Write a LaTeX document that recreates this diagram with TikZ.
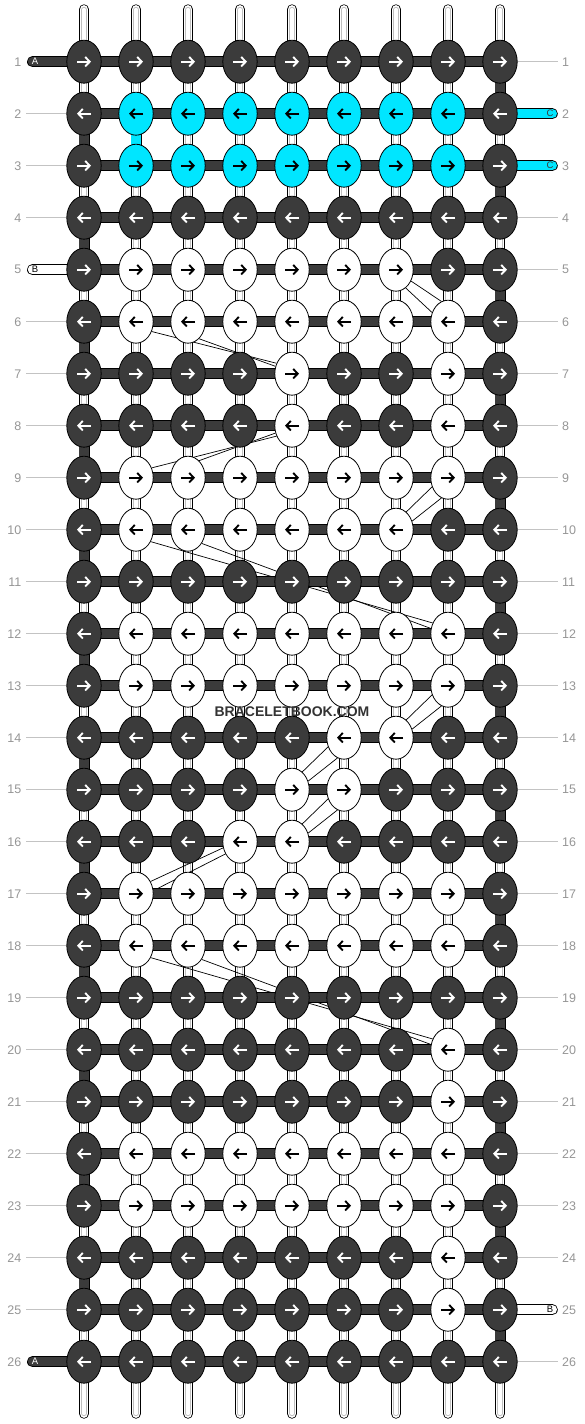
\documentclass[tikz,border=0pt]{standalone}
\usepackage{fontspec}
\setmainfont{Liberation Sans}
\usepackage{tikz}
\usetikzlibrary{shapes.geometric,arrows.meta}
\definecolor{threaddark}{RGB}{59,59,59}
\definecolor{threadcyan}{RGB}{0,230,255}
\definecolor{labelgray}{RGB}{150,150,150}
\definecolor{guidegray}{RGB}{195,195,195}
\definecolor{stripegray}{RGB}{190,190,190}
\pgfdeclarelayer{warps}
\pgfdeclarelayer{skips}
\pgfdeclarelayer{wefts}
\pgfsetlayers{warps,skips,wefts,main}
% knot colours row by row: 0 dark, 1 white, 2 cyan
\def\knotmap{{%
0,0,0,0,0,0,0,0,0,%
0,2,2,2,2,2,2,2,0,%
0,2,2,2,2,2,2,2,0,%
0,0,0,0,0,0,0,0,0,%
0,1,1,1,1,1,1,0,0,%
0,1,1,1,1,1,1,1,0,%
0,0,0,0,1,0,0,1,0,%
0,0,0,0,1,0,0,1,0,%
0,1,1,1,1,1,1,1,0,%
0,1,1,1,1,1,1,0,0,%
0,0,0,0,0,0,0,0,0,%
0,1,1,1,1,1,1,1,0,%
0,1,1,1,1,1,1,1,0,%
0,0,0,0,0,1,1,0,0,%
0,0,0,0,1,1,0,0,0,%
0,0,0,1,1,0,0,0,0,%
0,1,1,1,1,1,1,1,0,%
0,1,1,1,1,1,1,1,0,%
0,0,0,0,0,0,0,0,0,%
0,0,0,0,0,0,0,1,0,%
0,0,0,0,0,0,0,1,0,%
0,1,1,1,1,1,1,1,0,%
0,1,1,1,1,1,1,1,0,%
0,0,0,0,0,0,0,1,0,%
0,0,0,0,0,0,0,1,0,%
0,0,0,0,0,0,0,0,0}}

\begin{document}
\begin{tikzpicture}[x=1pt,y=-1pt,
    knot/.style={ellipse,draw=black,line width=0.8pt,minimum width=34.4pt,minimum height=43pt,inner sep=0pt},
    knot0/.style={knot,fill=threaddark},
    knot1/.style={knot,fill=white},
    knot2/.style={knot,fill=threadcyan},
    knotarrow/.style={-{Straight Barb[length=4.5pt,width=9.5pt]},line width=1.9pt},
    link0/.style={draw=black,line width=10.4pt,postaction={draw=white,line width=8.8pt},postaction={draw=stripegray,line width=5.2pt},postaction={draw=white,line width=3.2pt}},
    link1/.style={draw=black,line width=11pt,postaction={draw=threaddark,line width=9.4pt}},
    link2/.style={draw=black,line width=11pt,postaction={draw=threadcyan,line width=9.4pt}},
    endwhite/.style={draw=black,line width=11pt,postaction={draw=white,line width=9.4pt},line cap=round},
    endtag/.style={font=\fontsize{9.5}{11}\selectfont,inner sep=0pt},
    rowlabel/.style={text=labelgray,font=\fontsize{12.5}{15}\selectfont,inner sep=0pt},
    guide/.style={draw=guidegray,line width=0.9pt,shorten <=4.5pt},
    skip/.style={draw=black,line width=0.7pt},
    watermark/.style={font=\bfseries\fontsize{14}{16}\selectfont,text=black!80,inner sep=0pt}]
    \useasboundingbox (0,0) rectangle (584,1424);

    % knots with their arrows
    \foreach \rw in {1,...,26} {
        \pgfmathsetmacro\y{61.7+52*(\rw-1)}
        \pgfmathtruncatemacro\way{1-2*mod(\rw+1,2)}
        \foreach \cl in {1,...,9} {
            \pgfmathsetmacro\x{84+52*(\cl-1)}
            \pgfmathtruncatemacro\kind{\knotmap[9*(\rw-1)+\cl-1]}
            \ifnum\kind=0 \def\ink{white}\else\def\ink{black}\fi
            \node[knot\kind] (k\rw-\cl) at (\x,\y) {};
            \draw[knotarrow,\ink] ({\x-7*\way},\y) -- ({\x+7*\way},\y);
        }
        \node[rowlabel,anchor=east] (ll\rw) at (21.5,\y) {\rw};
        \node[rowlabel,anchor=west] (lr\rw) at (562,\y) {\rw};
    }
    \foreach \rw in {2,3,4,6,7,...,25} \draw[guide] (ll\rw) -- (k\rw-1);
    \foreach \rw in {1,4,5,...,24,26} \draw[guide] (lr\rw) -- (k\rw-9);

    % warp threads
    \begin{pgfonlayer}{warps}
        \fill[white] (0,0) rectangle (584,1424);
        \foreach \cl in {1,...,9} {
            \pgfmathsetmacro\x{84+52*(\cl-1)}
            \coordinate (top\cl) at (\x,9.5);
            \coordinate (bot\cl) at (\x,1413.5);
            \draw[link0,line cap=round] (top\cl) -- (k1-\cl.center);
            \draw[link0,line cap=round] (bot\cl) -- (k26-\cl.center);
            \foreach \rw in {1,...,25} {
                \pgfmathtruncatemacro\nx{\rw+1}
                \pgfmathtruncatemacro\lk{(\cl==1)*(mod(\rw,2)==0)+(\cl==9)*(mod(\rw,2)==1)+2*(\cl==2)*(\rw==2)}
                \draw[link\lk] (k\rw-\cl.center) -- (k\nx-\cl.center);
            }
        }
    \end{pgfonlayer}

    % skipped threads
    \begin{pgfonlayer}{skips}
        \draw[skip] (k5-7.-62) -- (k6-8.150);
        \draw[skip] (k5-7.-37) -- (k6-8.108);
        \draw[skip] (k6-2.-32) -- (k7-5.146);
        \draw[skip] (k6-3.-57) -- (k7-5.156);
        \draw[skip] (k9-2.32) -- (k8-5.-146);
        \draw[skip] (k9-3.57) -- (k8-5.-156);
        \draw[skip] (k10-7.60) -- (k9-8.-150);
        \draw[skip] (k10-7.28) -- (k9-8.-108);
        \draw[skip] (k10-2.-39) -- (k12-8.145);
        \draw[skip] (k10-3.-45) -- (k12-8.163);
        \draw[skip] (k14-7.60) -- (k13-8.-150);
        \draw[skip] (k14-7.28) -- (k13-8.-108);
        \draw[skip] (k15-5.60) -- (k14-6.-150);
        \draw[skip] (k15-5.28) -- (k14-6.-108);
        \draw[skip] (k16-5.60) -- (k15-6.-150);
        \draw[skip] (k16-5.28) -- (k15-6.-108);
        \draw[skip] (k17-2.40) -- (k16-4.-160);
        \draw[skip] (k17-2.10) -- (k16-4.-140);
        \draw[skip] (k18-2.-39) -- (k20-8.145);
        \draw[skip] (k18-3.-45) -- (k20-8.163);
    \end{pgfonlayer}

    % weft threads and loose ends
    \begin{pgfonlayer}{wefts}
        \foreach \rw in {1,...,26} {
            \foreach \cl in {1,...,8} {
                \pgfmathtruncatemacro\nx{\cl+1}
                \draw[link1] (k\rw-\cl.center) -- (k\rw-\nx.center);
            }
        }
        \coordinate (endA1) at (32.5,61.7);
        \coordinate (endA26) at (32.5,1361.7);
        \coordinate (endB5) at (32.5,269.7);
        \coordinate (endC2) at (552.3,113.7);
        \coordinate (endC3) at (552.3,165.7);
        \coordinate (endB25) at (552.3,1309.7);
        \draw[link1,line cap=round] (endA1) -- (k1-1.center);
        \draw[link1,line cap=round] (endA26) -- (k26-1.center);
        \draw[endwhite] (endB5) -- (k5-1.center);
        \draw[link2,line cap=round] (k2-9.center) -- (endC2);
        \draw[link2,line cap=round] (k3-9.center) -- (endC3);
        \draw[endwhite] (k25-9.center) -- (endB25);
    \end{pgfonlayer}
    \node[endtag,text=white] (tagA1) at (35,61.7) {A};
    \node[endtag,text=white] (tagA26) at (35,1361.7) {A};
    \node[endtag] (tagB5) at (35,269.7) {B};
    \node[endtag,text=threaddark] (tagC2) at (550,113.7) {C};
    \node[endtag,text=threaddark] (tagC3) at (550,165.7) {C};
    \node[endtag] (tagB25) at (550,1309.7) {B};

    \node[watermark] (mark) at (292,711.7) {BRACELETBOOK.COM};
\end{tikzpicture}
\end{document}
